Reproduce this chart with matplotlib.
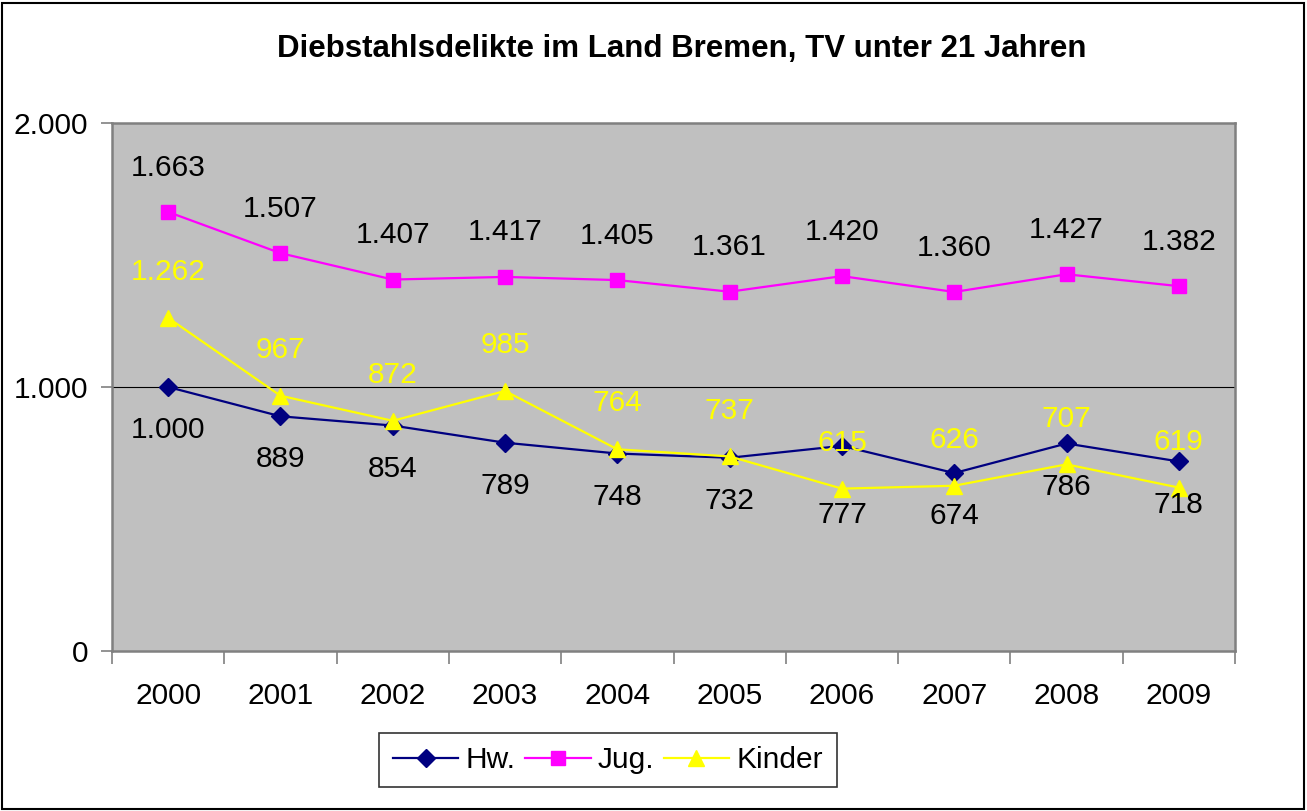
import matplotlib
matplotlib.use("Agg")
import matplotlib.pyplot as plt
from matplotlib.patches import Rectangle
from matplotlib.ticker import FixedLocator, FuncFormatter

years = ["2000", "2001", "2002", "2003", "2004", "2005", "2006", "2007", "2008", "2009"]
hw = [1000, 889, 854, 789, 748, 732, 777, 674, 786, 718]
jug = [1663, 1507, 1407, 1417, 1405, 1361, 1420, 1360, 1427, 1382]
kinder = [1262, 967, 872, 985, 764, 737, 615, 626, 707, 619]
series_names = ["Hw.", "Jug.", "Kinder"]
title = "Diebstahlsdelikte im Land Bremen, TV unter 21 Jahren"

plt.rcParams['font.family'] = ['Liberation Sans', 'DejaVu Sans']

W, H = 1307, 811
fig = plt.figure(figsize=(W / 100, H / 100), dpi=100)
fig.patch.set_facecolor("white")

L, R, T, B = 112, 1235, 123, 651
ax = fig.add_axes([L / W, 1 - B / H, (R - L) / W, (B - T) / H])
ax.set_facecolor("#C0C0C0")

x = list(range(len(years)))

def fmt(v):
    return f"{int(v):,}".replace(",", ".")

ax.axhline(1000, color="#000000", lw=0.8, zorder=1)

l1, = ax.plot(x, hw, color="#000080", lw=1.6, marker="D", ms=9.5, label=series_names[0], zorder=3)
l2, = ax.plot(x, jug, color="#FF00FF", lw=1.6, marker="s", ms=9.5, label=series_names[1], zorder=3)
l3, = ax.plot(x, kinder, color="#FFFF00", lw=1.6, marker="^", ms=11.5, label=series_names[2], zorder=3)

fs = 21.5
# label displacement for the one Hw label that the original moved to avoid overlap
hw_label_shift = {6: -50}
for xi, v in zip(x, hw):
    dy = hw_label_shift.get(xi, -31)
    ax.annotate(fmt(v), (xi, v), xytext=(0, dy), textcoords="offset points",
                ha="center", va="center", fontsize=fs, color="black", zorder=4)
for xi, v in zip(x, jug):
    ax.annotate(fmt(v), (xi, v), xytext=(0, 32), textcoords="offset points",
                ha="center", va="center", fontsize=fs, color="black", zorder=4)
for xi, v in zip(x, kinder):
    ax.annotate(fmt(v), (xi, v), xytext=(0, 33), textcoords="offset points",
                ha="center", va="center", fontsize=fs, color="#FFFF00", zorder=4)

ax.set_xlim(-0.5, len(years) - 0.5)
ax.set_ylim(0, 2000)

ax.xaxis.set_major_locator(FixedLocator(x))
ax.set_xticklabels(years, fontsize=fs)
ax.xaxis.set_minor_locator(FixedLocator([i - 0.5 for i in range(len(years) + 1)]))
ax.tick_params(axis="x", which="major", length=0, pad=22)
ax.tick_params(axis="x", which="minor", length=9, width=1.2, color="#808080", direction="out")

ax.yaxis.set_major_locator(FixedLocator([0, 1000, 2000]))
ax.yaxis.set_major_formatter(FuncFormatter(lambda v, p: fmt(v)))
ax.tick_params(axis="y", which="major", length=8, width=1.2, color="#808080", direction="out",
               labelsize=fs, pad=9)

for s in ax.spines.values():
    s.set_color("#808080")
    s.set_linewidth(1.8)

fig.text(682 / W, 1 - 49 / H, title, ha="center", va="center", fontsize=22.5, fontweight="bold")

leg = fig.legend(handles=[l1, l2, l3], loc="center", bbox_to_anchor=(608 / W, 1 - 760 / H),
                 ncol=3, fontsize=fs, frameon=True, fancybox=False, edgecolor="black",
                 handlelength=2.2, columnspacing=0.3, handletextpad=0.25, borderpad=0.45)
leg.get_frame().set_linewidth(1.2)

fig.patches.append(Rectangle((2 / W, 2 / H), (W - 5) / W, (H - 5) / H, transform=fig.transFigure,
                             fill=False, edgecolor="black", lw=1.5))

fig.savefig("out.png", dpi=100)
